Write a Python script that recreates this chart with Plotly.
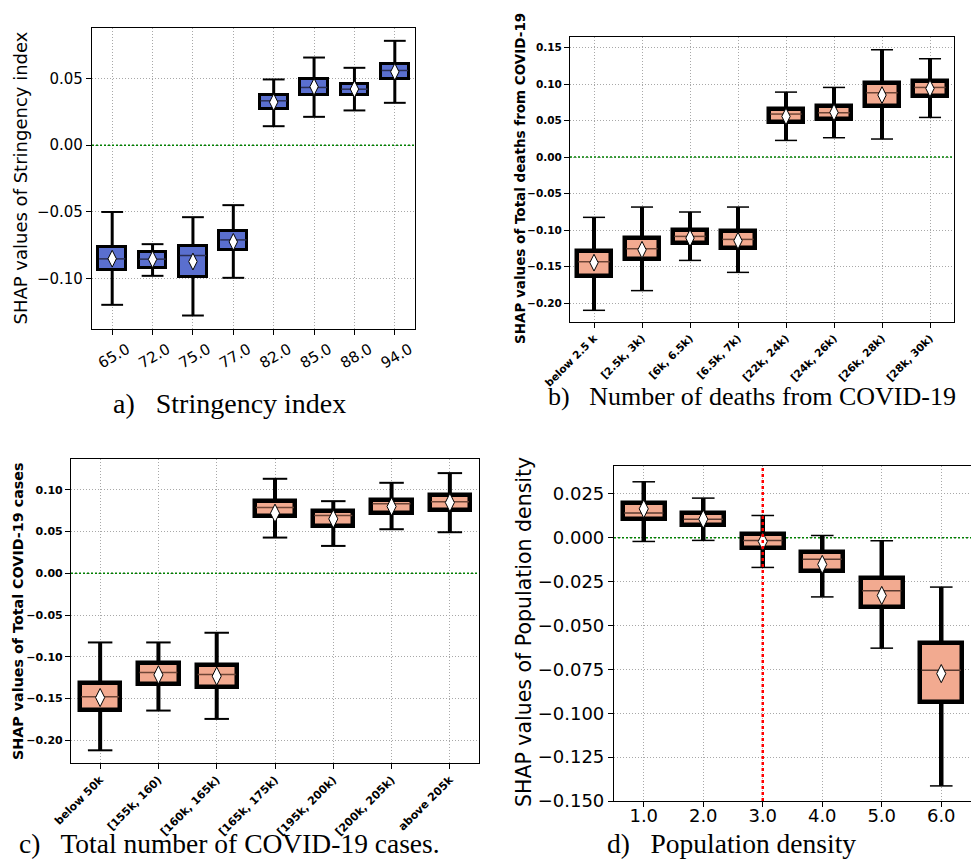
import plotly.graph_objects as go

# ---------------- data ----------------
# a) Stringency index
cats_a = ["65.0", "72.0", "75.0", "77.0", "82.0", "85.0", "88.0", "94.0"]
a_low = [-0.1195, -0.0978, -0.1275, -0.0993, 0.0142, 0.0212, 0.0260, 0.0317]
a_q1 = [-0.0938, -0.0918, -0.0983, -0.0786, 0.0272, 0.0374, 0.0374, 0.0492]
a_med = [-0.0851, -0.0853, -0.0826, -0.0709, 0.0332, 0.0432, 0.0419, 0.0559]
a_q3 = [-0.0761, -0.0799, -0.0758, -0.0644, 0.0374, 0.0492, 0.0457, 0.0611]
a_high = [-0.0500, -0.0741, -0.0539, -0.0449, 0.0492, 0.0656, 0.0579, 0.0781]
a_mean = [-0.0850, -0.0855, -0.0871, -0.0724, 0.0322, 0.0437, 0.0420, 0.0549]

# b) Number of deaths from COVID-19
cats_b = ["below 2.5 k", "[2.5k, 3k)", "[6k, 6.5k)", "[6.5k, 7k)",
          "[22k, 24k)", "[24k, 26k)", "[26k, 28k)", "[28k, 30k)"]
b_low = [-0.210, -0.183, -0.1416, -0.158, 0.0228, 0.0265, 0.0247, 0.0543]
b_q1 = [-0.163, -0.140, -0.1178, -0.1242, 0.048, 0.0516, 0.0694, 0.084]
b_med = [-0.1434, -0.1256, -0.1087, -0.1128, 0.0589, 0.0607, 0.0881, 0.0954]
b_q3 = [-0.1288, -0.111, -0.0995, -0.1014, 0.0658, 0.0694, 0.1009, 0.1041]
b_high = [-0.0826, -0.0685, -0.0753, -0.0685, 0.089, 0.0954, 0.147, 0.1347]
b_mean = [-0.1447, -0.127, -0.111, -0.1146, 0.0557, 0.0612, 0.0849, 0.094]

# c) Total number of COVID-19 cases
cats_c = ["below 50k", "[155k, 160)", "[160k, 165k)", "[165k, 175k)",
          "[195k, 200k)", "[200k, 205k)", "above 205k"]
c_low = [-0.212, -0.1644, -0.1744, 0.0428, 0.0328, 0.0528, 0.0492]
c_q1 = [-0.164, -0.1324, -0.136, 0.0688, 0.0572, 0.0724, 0.0756]
c_med = [-0.148, -0.1188, -0.1212, 0.0788, 0.0692, 0.0832, 0.0856]
c_q3 = [-0.1312, -0.108, -0.110, 0.0872, 0.0744, 0.0876, 0.0936]
c_high = [-0.0828, -0.0828, -0.0712, 0.1132, 0.0864, 0.1084, 0.120]
c_mean = [-0.1488, -0.1216, -0.1232, 0.072, 0.0652, 0.080, 0.0848]

# d) Population density
cats_d = [1.0, 2.0, 3.0, 4.0, 5.0, 6.0]
d_low = [-0.0021, -0.0015, -0.0169, -0.0337, -0.0629, -0.1414]
d_q1 = [0.0105, 0.0072, -0.0061, -0.0188, -0.0397, -0.0935]
d_med = [0.0141, 0.0106, -0.0015, -0.0122, -0.0302, -0.0755]
d_q3 = [0.0196, 0.0143, 0.0019, -0.0082, -0.0230, -0.0597]
d_high = [0.0319, 0.0226, 0.0127, 0.0013, -0.0017, -0.0281]
d_mean = [0.0165, 0.0106, -0.0021, -0.0152, -0.0329, -0.0774]
d_threshold = 3.0

captions = ["a)\u00a0\u00a0 Stringency index",
            "b)\u00a0\u00a0 Number of deaths from COVID-19",
            "c)\u00a0\u00a0 Total number of COVID-19 cases.",
            "d)\u00a0\u00a0 Population density"]
ytitles = ["SHAP values of Stringency index",
           "SHAP values of Total deaths from COVID-19",
           "SHAP values of Total COVID-19 cases",
           "SHAP values of Population density"]

# ---------------- layout helpers ----------------
W, H = 971, 859
BLUE = "#5a6fcf"
SALMON = "#f2aa90"
FONT = "DejaVu Sans"
SERIF = "Liberation Serif"


def dx(x0, x1):
    return [x0 / W, min(x1 / W, 1.0)]


def dy(y0, y1):
    return [1 - y1 / H, 1 - y0 / H]


panels = [
    dict(pos=list(range(len(cats_a))), labels=cats_a, low=a_low, q1=a_q1, med=a_med,
         q3=a_q3, high=a_high, mean=a_mean, fill=BLUE, medc="#2a2f55",
         xdom=dx(92, 415), ydom=dy(28, 329), xr=[-0.5, 7.5], yr=[-0.1376, 0.0877],
         dtick=0.05, fmt=".2f", tfs=15, bold=False, angle=-30, shift=15, xstand=0,
         edge=3, wl=3, capw=0.27, capl=2, bw=0.69, ms=12,
         title=ytitles[0], tx=20, ty=178.5, tsz=18,
         cap=captions[0], cx=229, cy=403, csz=28),
    dict(pos=list(range(len(cats_b))), labels=cats_b, low=b_low, q1=b_q1, med=b_med,
         q3=b_q3, high=b_high, mean=b_mean, fill=SALMON, medc="#6e4536",
         xdom=dx(570, 954), ydom=dy(37, 322), xr=[-0.5, 7.5], yr=[-0.226, 0.1645],
         dtick=0.05, fmt=".2f", tfs=10.5, bold=True, angle=-45, shift=0, xstand=0,
         edge=4.5, wl=4, capw=0.23, capl=1.5, bw=0.69, ms=12,
         title=ytitles[1], tx=520, ty=179, tsz=13.5,
         cap=captions[1], cx=752, cy=396, csz=26),
    dict(pos=list(range(len(cats_c))), labels=cats_c, low=c_low, q1=c_q1, med=c_med,
         q3=c_q3, high=c_high, mean=c_mean, fill=SALMON, medc="#6e4536",
         xdom=dx(71, 479), ydom=dy(459, 763), xr=[-0.5, 6.5], yr=[-0.2272, 0.1369],
         dtick=0.05, fmt=".2f", tfs=11, bold=True, angle=-45, shift=0, xstand=0,
         edge=4.5, wl=4, capw=0.21, capl=2, bw=0.69, ms=13,
         title=ytitles[2], tx=18, ty=611, tsz=14.3,
         cap=captions[2], cx=229, cy=843, csz=27.5),
    dict(pos=cats_d, labels=["%.1f" % v for v in cats_d], low=d_low, q1=d_q1, med=d_med,
         q3=d_q3, high=d_high, mean=d_mean, fill=SALMON, medc="#5a3a30",
         xdom=dx(614, 971), ydom=dy(466, 801), xr=[0.5, 6.5], yr=[-0.150, 0.0409],
         dtick=0.025, fmt=".3f", tfs=18, bold=False, angle=0, shift=0, xstand=-7,
         edge=4.5, wl=4.5, capw=0.19, capl=1.5, bw=0.70, ms=13,
         title=ytitles[3], tx=524, ty=632, tsz=20.5,
         cap=captions[3], cx=731, cy=843, csz=27.5),
]

fig = go.Figure()
annotations = []
shapes = []

for k, p in enumerate(panels, start=1):
    xa = "x" if k == 1 else "x%d" % k
    ya = "y" if k == 1 else "y%d" % k
    pos = p["pos"]

    # whiskers
    wx, wy = [], []
    for i, x in enumerate(pos):
        wx += [x, x, None, x, x, None]
        wy += [p["low"][i], p["q1"][i], None, p["q3"][i], p["high"][i], None]
    fig.add_trace(go.Scatter(x=wx, y=wy, mode="lines", xaxis=xa, yaxis=ya,
                             line=dict(color="black", width=p["wl"]),
                             hoverinfo="skip", showlegend=False))
    # caps
    cx_, cy_ = [], []
    for i, x in enumerate(pos):
        for v in (p["low"][i], p["high"][i]):
            cx_ += [x - p["capw"], x + p["capw"], None]
            cy_ += [v, v, None]
    fig.add_trace(go.Scatter(x=cx_, y=cy_, mode="lines", xaxis=xa, yaxis=ya,
                             line=dict(color="black", width=p["capl"]),
                             hoverinfo="skip", showlegend=False))
    # boxes (q1..q3)
    fig.add_trace(go.Bar(x=pos, y=[b - a for a, b in zip(p["q1"], p["q3"])],
                         base=p["q1"], width=p["bw"], xaxis=xa, yaxis=ya,
                         marker=dict(color=p["fill"],
                                     line=dict(color="black", width=p["edge"])),
                         showlegend=False, hoverinfo="skip"))
    # medians
    mx, my = [], []
    hw = p["bw"] / 2 - 0.02
    for i, x in enumerate(pos):
        mx += [x - hw, x + hw, None]
        my += [p["med"][i], p["med"][i], None]
    fig.add_trace(go.Scatter(x=mx, y=my, mode="lines", xaxis=xa, yaxis=ya,
                             line=dict(color=p["medc"], width=1.5),
                             hoverinfo="skip", showlegend=False))
    # means
    fig.add_trace(go.Scatter(x=pos, y=p["mean"], mode="markers", xaxis=xa, yaxis=ya,
                             marker=dict(symbol="diamond-tall", size=p["ms"], color="white",
                                         line=dict(color="black", width=1)),
                             showlegend=False, hoverinfo="skip"))

    tickfont = dict(family=FONT, size=p["tfs"], color="black",
                    weight="bold" if p["bold"] else "normal")
    common = dict(showline=True, mirror=True, linecolor="black", linewidth=1.2,
                  ticks="outside", ticklen=5, tickcolor="black", tickwidth=1,
                  showgrid=True, gridcolor="#a8a8a8", gridwidth=1, griddash="1px,2px",
                  zeroline=False, automargin=False, tickfont=tickfont)
    xkw = dict(common, domain=p["xdom"], range=p["xr"], anchor=ya,
               tickmode="array", tickvals=pos, ticktext=p["labels"],
               tickangle=p["angle"])
    if p["shift"]:
        xkw["ticklabelshift"] = p["shift"]
    if p["xstand"]:
        xkw["ticklabelstandoff"] = p["xstand"]
    ykw = dict(common, domain=p["ydom"], range=p["yr"], anchor=xa,
               tickmode="linear", tick0=0, dtick=p["dtick"], tickformat=p["fmt"])
    fig.update_layout(**{("xaxis" if k == 1 else "xaxis%d" % k): xkw,
                         ("yaxis" if k == 1 else "yaxis%d" % k): ykw})

    # zero reference line across the panel
    shapes.append(dict(type="line", xref=xa, x0=p["xr"][0], x1=p["xr"][1],
                       yref=ya, y0=0, y1=0,
                       line=dict(color="green", width=1.5, dash="2px,2px"), layer="between"))

    # y title
    annotations.append(dict(text=p["title"], textangle=-90, showarrow=False,
                            xref="paper", yref="paper", x=p["tx"] / W, y=1 - p["ty"] / H,
                            xanchor="center", yanchor="middle",
                            font=dict(family=FONT, size=p["tsz"], color="black",
                                      weight="bold" if p["bold"] else "normal")))
    # caption
    annotations.append(dict(text=p["cap"], showarrow=False, xref="paper", yref="paper",
                            x=p["cx"] / W, y=1 - p["cy"] / H,
                            xanchor="center", yanchor="middle",
                            font=dict(family=SERIF, size=p["csz"], color="black")))

# vertical threshold line in panel d
shapes.append(dict(type="line", xref="x4", x0=d_threshold, x1=d_threshold,
                   yref="y4", y0=panels[3]["yr"][0], y1=panels[3]["yr"][1],
                   line=dict(color="red", width=2.5, dash="3px,3px"), layer="above"))

fig.update_layout(width=W, height=H, margin=dict(l=0, r=0, t=0, b=0),
                  template="none", paper_bgcolor="white", plot_bgcolor="white",
                  showlegend=False, annotations=annotations, shapes=shapes,
                  bargap=0)

fig.write_html("out.html")
